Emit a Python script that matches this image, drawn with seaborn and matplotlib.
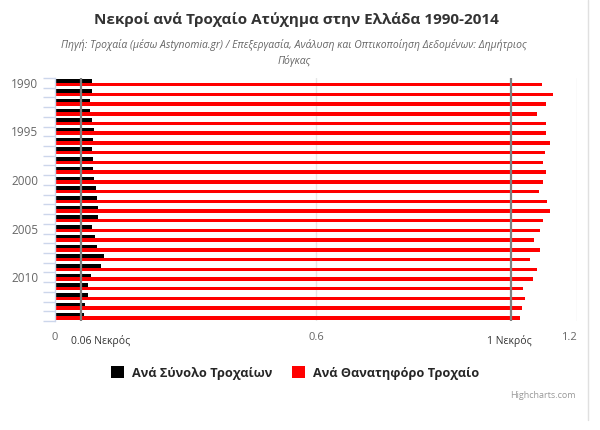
import matplotlib
matplotlib.use("Agg")
import matplotlib.pyplot as plt
from matplotlib.lines import Line2D
from matplotlib.patches import Patch
import seaborn as sns
import pandas as pd
import numpy as np

years = [str(y) for y in range(1990, 2015)]
per_total = [0.084, 0.084, 0.080, 0.080, 0.084, 0.089, 0.087, 0.084, 0.087, 0.087,
             0.089, 0.094, 0.096, 0.098, 0.098, 0.084, 0.091, 0.096, 0.112, 0.105,
             0.082, 0.077, 0.075, 0.068, 0.066]
per_fatal = [1.119, 1.144, 1.128, 1.107, 1.128, 1.128, 1.139, 1.126, 1.121, 1.128,
             1.121, 1.112, 1.130, 1.139, 1.121, 1.116, 1.100, 1.116, 1.091, 1.107,
             1.098, 1.075, 1.080, 1.073, 1.068]
series_names = ["Ανά Σύνολο Τροχαίων", "Ανά Θανατηφόρο Τροχαίο"]
series_colors = ["#000000", "#ff0000"]
x_ticks = [0, 0.6, 1.2]
x_tick_labels = ["0", "0.6", "1.2"]
year_labels = ["1990", "1995", "2000", "2005", "2010"]
plot_lines = [0.06, 1.048]
plot_line_labels = ["0.06 Νεκρός", "1 Νεκρός"]

title = "Νεκροί ανά Τροχαίο Ατύχημα στην Ελλάδα 1990-2014"
subtitle = ("Πηγή: Τροχαία (μέσω Astynomia.gr) / Επεξεργασία, Ανάλυση και Οπτικοποίηση Δεδομένων: Δημήτριος\n"
            "Πόγκας")

df = pd.DataFrame({
    "year": years * 2,
    "value": per_total + per_fatal,
    "series": [series_names[0]] * len(years) + [series_names[1]] * len(years),
})

sns.set_theme(style="white")
plt.rcParams["font.family"] = ["Open Sans", "DejaVu Sans"]

fig = plt.figure(figsize=(6, 4.3), dpi=100)
ax = fig.add_axes([55 / 600, 1 - 321 / 430, (577 - 55) / 600, (321 - 78) / 430])

for xv in [0.6, 1.2]:
    ax.axvline(xv, color="#e6e6e6", lw=1, zorder=0)

sns.barplot(data=df, y="year", x="value", hue="series", order=years,
            hue_order=series_names, palette=series_colors, orient="h",
            width=0.72, saturation=1, edgecolor="none", legend=False, ax=ax,
            errorbar=None)

for xv in plot_lines:
    ax.axvline(xv, color="#808080", lw=1.6, zorder=5)

ax.set_xlim(0, 1.2)
ax.set_ylim(len(years) - 0.5, -0.5)
ax.set_xlabel("")
ax.set_ylabel("")

ax.set_xticks(x_ticks)
ax.set_xticklabels(x_tick_labels, color="#666666", fontsize=8)
ax.tick_params(axis="x", length=0, pad=8)
lbls = ax.get_xticklabels()
lbls[-1].set_ha("right")

ypos = [years.index(y) for y in year_labels]
ax.set_yticks(ypos)
ax.set_yticklabels(year_labels, color="#666666", fontsize=8.5)
ax.set_yticks(np.arange(-0.5, len(years), 1.0), minor=True)
ax.tick_params(axis="y", which="major", length=0, pad=12)
ax.tick_params(axis="y", which="minor", length=9, width=1, color="#ccd6eb", left=True)

for s in ["top", "right", "bottom"]:
    ax.spines[s].set_visible(False)
ax.spines["left"].set_color("#ccd6eb")
ax.spines["left"].set_linewidth(1)

# plot line labels
ax.text(0.037, -0.083, plot_line_labels[0], transform=ax.get_xaxis_transform(),
        ha="left", va="center", fontsize=7.5, color="#333333")
ax.text(1.044, -0.083, plot_line_labels[1], transform=ax.get_xaxis_transform(),
        ha="center", va="center", fontsize=7.5, color="#333333")

fig.text(296 / 600, 1 - 20 / 430, title, ha="center", va="center",
         fontsize=11, fontweight="bold", color="#333333")
fig.text(294 / 600, 1 - 53 / 430, subtitle, ha="center", va="center",
         fontsize=7.5, style="italic", color="#666666", linespacing=1.35)

handles = [Patch(facecolor=c, edgecolor="none") for c in series_colors]
fig.legend(handles, series_names, loc="center", bbox_to_anchor=(295 / 600, 1 - 373 / 430),
           ncol=2, frameon=False, handlelength=1.0, handleheight=1.0,
           handletextpad=0.6, columnspacing=1.6,
           prop={"weight": "bold", "size": 9.2})

fig.text(576 / 600, 1 - 395 / 430, "Highcharts.com", ha="right", va="center",
         fontsize=6.5, color="#999999")

fig.add_artist(Line2D([588 / 600, 588 / 600], [1, 1 - 420 / 430], color="#e0e0e0", lw=1))

fig.savefig("out.png", dpi=100)
